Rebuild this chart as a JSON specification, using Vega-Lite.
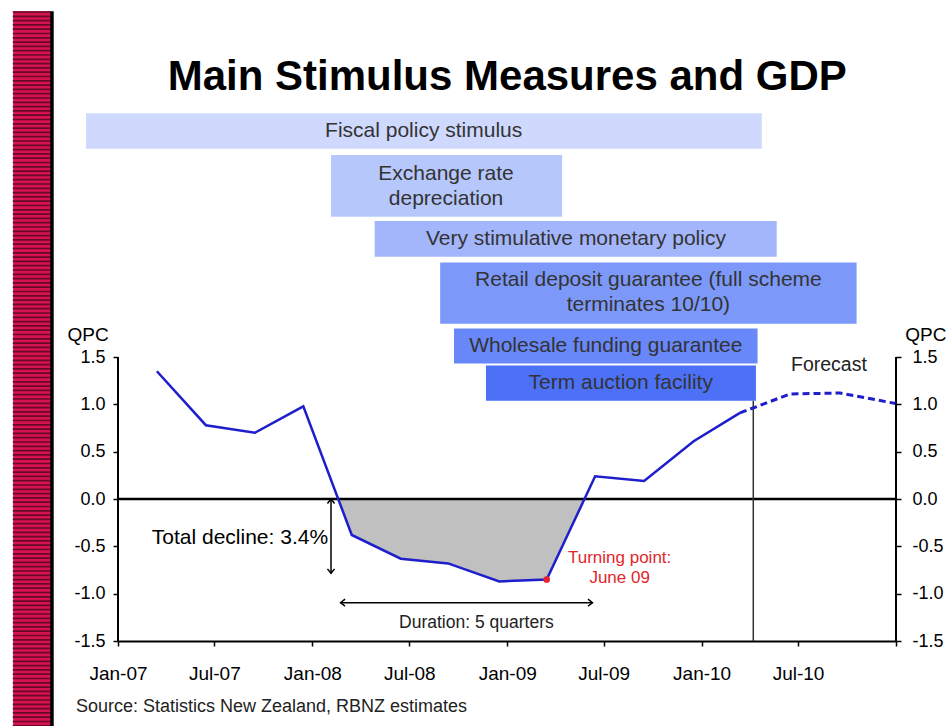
{
  "$schema": "https://vega.github.io/schema/vega-lite/v6.json",
  "width": 778,
  "height": 530,
  "padding": {"left": 12, "top": -8, "right": 0, "bottom": 0},
  "background": "white",
  "config": {"font": "Liberation Sans", "view": {"stroke": null}},
  "datasets": {
    "gdp": [
      {"date": "2007-03-15", "qpc": 1.35, "series": "Actual"},
      {"date": "2007-06-15", "qpc": 0.78, "series": "Actual"},
      {"date": "2007-09-15", "qpc": 0.70, "series": "Actual"},
      {"date": "2007-12-15", "qpc": 0.98, "series": "Actual"},
      {"date": "2008-03-15", "qpc": -0.38, "series": "Actual"},
      {"date": "2008-06-15", "qpc": -0.63, "series": "Actual"},
      {"date": "2008-09-12", "qpc": -0.68, "series": "Actual"},
      {"date": "2008-12-17", "qpc": -0.87, "series": "Actual"},
      {"date": "2009-03-16", "qpc": -0.85, "series": "Actual"},
      {"date": "2009-06-15", "qpc": 0.24, "series": "Actual"},
      {"date": "2009-09-15", "qpc": 0.19, "series": "Actual"},
      {"date": "2009-12-17", "qpc": 0.61, "series": "Actual"},
      {"date": "2010-03-14", "qpc": 0.91, "series": "Actual"},
      {"date": "2010-03-14", "qpc": 0.91, "series": "Forecast"},
      {"date": "2010-06-16", "qpc": 1.11, "series": "Forecast"},
      {"date": "2010-09-18", "qpc": 1.12, "series": "Forecast"},
      {"date": "2010-12-31", "qpc": 1.01, "series": "Forecast"}
    ],
    "recession": [
      {"date": "2008-02-20", "qpc": 0},
      {"date": "2008-03-15", "qpc": -0.38},
      {"date": "2008-06-15", "qpc": -0.63},
      {"date": "2008-09-12", "qpc": -0.68},
      {"date": "2008-12-17", "qpc": -0.87},
      {"date": "2009-03-16", "qpc": -0.85},
      {"date": "2009-05-27", "qpc": 0}
    ],
    "measures": [
      {"measure": "Fiscal policy stimulus", "start": "2006-11-02", "end": "2010-04-24", "top": 4.077, "bottom": 3.700, "mid": "2008-07-28", "labely": 3.889},
      {"measure": "Exchange rate\ndepreciation", "start": "2008-02-05", "end": "2009-04-14", "top": 3.634, "bottom": 2.982, "mid": "2008-09-08", "labely": 3.433},
      {"measure": "Very stimulative monetary policy", "start": "2008-04-27", "end": "2010-05-22", "top": 2.937, "bottom": 2.559, "mid": "2009-05-10", "labely": 2.748},
      {"measure": "Retail deposit guarantee (full scheme\nterminates 10/10)", "start": "2008-08-28", "end": "2010-10-19", "top": 2.500, "bottom": 1.852, "mid": "2009-09-23", "labely": 2.313},
      {"measure": "Wholesale funding guarantee", "start": "2008-09-23", "end": "2010-04-16", "top": 1.803, "bottom": 1.433, "mid": "2009-07-05", "labely": 1.618},
      {"measure": "Term auction facility", "start": "2008-11-22", "end": "2010-04-13", "top": 1.412, "bottom": 1.038, "mid": "2009-08-02", "labely": 1.225}
    ],
    "arrows": [
      {"from": "2008-02-05", "to": "2008-02-05", "v1": 0, "v2": -0.785},
      {"from": "2008-02-23", "to": "2009-06-10", "v1": -1.095, "v2": -1.095}
    ],
    "heads": [
      {"date": "2008-02-05", "v": 0, "dir": "up"},
      {"date": "2008-02-05", "v": -0.785, "dir": "down"},
      {"date": "2008-02-23", "v": -1.095, "dir": "left"},
      {"date": "2009-06-10", "v": -1.095, "dir": "right"}
    ]
  },
  "resolve": {"axis": {"y": "independent"}},
  "layer": [
    {
      "data": {"values": [{}]},
      "mark": {"type": "rect", "color": "#D8124F"},
      "encoding": {
        "x": {"datum": {"year": 2006, "month": 6, "date": 18}, "type": "temporal", "title": null, "scale": {"domain": [{"year": 2007, "month": 1, "date": 1}, {"year": 2011, "month": 1, "date": 1}]}},
        "x2": {"datum": {"year": 2006, "month": 8, "date": 28}},
        "y": {"datum": 5.155, "type": "quantitative", "axis": null, "scale": {"domain": [-1.5, 4.1], "nice": false, "zero": false}},
        "y2": {"datum": -2.6}
      }
    },
    {
      "data": {"values": [{}]},
      "mark": {"type": "rule", "color": "#660A28", "strokeWidth": 38, "strokeDash": [1.7, 2.6], "strokeCap": "butt"},
      "encoding": {
        "x": {"datum": {"year": 2006, "month": 7, "date": 23}, "type": "temporal", "title": null},
        "y": {"datum": 5.155, "type": "quantitative", "axis": null},
        "y2": {"datum": -2.6}
      }
    },
    {
      "data": {"values": [{}]},
      "mark": {"type": "rule", "color": "#000000", "strokeWidth": 3.5},
      "encoding": {
        "x": {"datum": {"year": 2006, "month": 8, "date": 30}, "type": "temporal", "title": null},
        "y": {"datum": 5.155, "type": "quantitative", "axis": null},
        "y2": {"datum": -2.6}
      }
    },
    {
      "data": {"values": [{"date": "2009-01-01", "v": 4.32, "note": "Main Stimulus Measures and GDP"}]},
      "mark": {"type": "text", "fontSize": 42, "fontWeight": "bold", "color": "#000000", "align": "center", "baseline": "alphabetic"},
      "encoding": {
        "x": {"field": "date", "type": "temporal", "title": null},
        "y": {"field": "v", "type": "quantitative", "axis": null, "title": null},
        "text": {"field": "note"}
      }
    },
    {
      "data": {"name": "recession"},
      "mark": {"type": "area", "color": "#C0C0C0", "opacity": 1},
      "encoding": {
        "x": {"field": "date", "type": "temporal", "title": null},
        "y": {"field": "qpc", "type": "quantitative", "axis": null, "title": null},
        "y2": {"datum": 0}
      }
    },
    {
      "data": {"values": [{}]},
      "mark": {"type": "rule", "color": "#000000", "strokeWidth": 2.5},
      "encoding": {
        "x": {"datum": {"year": 2007, "month": 1, "date": 1}, "type": "temporal", "title": null},
        "x2": {"datum": {"year": 2011, "month": 1, "date": 1}},
        "y": {"datum": 0, "type": "quantitative", "axis": null}
      }
    },
    {
      "data": {"values": [{}]},
      "mark": {"type": "rule", "color": "#000000", "strokeWidth": 2},
      "encoding": {
        "x": {"datum": {"year": 2007, "month": 1, "date": 1}, "type": "temporal", "title": null},
        "y": {"datum": -1.5, "type": "quantitative", "axis": null},
        "y2": {"datum": 1.5}
      }
    },
    {
      "data": {"values": [{}]},
      "mark": {"type": "rule", "color": "#000000", "strokeWidth": 2},
      "encoding": {
        "x": {"datum": {"year": 2011, "month": 1, "date": 1}, "type": "temporal", "title": null},
        "y": {"datum": -1.5, "type": "quantitative", "axis": null},
        "y2": {"datum": 1.5}
      }
    },
    {
      "data": {"values": [{}]},
      "mark": {"type": "rule", "color": "#333333", "strokeWidth": 1.5},
      "encoding": {
        "x": {"datum": {"year": 2010, "month": 4, "date": 8}, "type": "temporal", "title": null},
        "y": {"datum": -1.5, "type": "quantitative", "axis": null},
        "y2": {"datum": 1.04}
      }
    },
    {
      "data": {"name": "gdp"},
      "transform": [{"filter": "datum.series == 'Actual'"}],
      "mark": {"type": "line", "color": "#1E1ECC", "strokeWidth": 2.5},
      "encoding": {
        "x": {"field": "date", "type": "temporal", "title": null,
          "axis": {"orient": "bottom", "values": [{"year": 2007, "month": 1, "date": 1}, {"year": 2007, "month": 7, "date": 1}, {"year": 2008, "month": 1, "date": 1}, {"year": 2008, "month": 7, "date": 1}, {"year": 2009, "month": 1, "date": 1}, {"year": 2009, "month": 7, "date": 1}, {"year": 2010, "month": 1, "date": 1}, {"year": 2010, "month": 7, "date": 1}, {"year": 2011, "month": 1, "date": 1}],
            "format": "%b-%y", "labelExpr": "datum.label == 'Jan-11' ? '' : datum.label",
            "domain": true, "domainColor": "#000000", "domainWidth": 2, "grid": false,
            "ticks": true, "tickSize": 5, "tickColor": "#000000", "tickWidth": 1.5,
            "labelFontSize": 19, "labelColor": "#000000", "labelPadding": 18, "labelDx": 6, "labelFlush": false, "labelOverlap": false, "labelFont": "Liberation Sans"}},
        "y": {"field": "qpc", "type": "quantitative", "title": null,
          "axis": {"orient": "left", "values": [-1.5, -1, -0.5, 0, 0.5, 1, 1.5],
            "labelExpr": "replace(format(datum.value, '.1f'), '\u2212', '-')",
            "domain": false, "grid": false, "ticks": true, "tickSize": 5, "tickColor": "#000000", "tickWidth": 1.5,
            "labelFontSize": 18, "labelColor": "#000000", "labelPadding": 8, "labelFont": "Liberation Sans"}}
      }
    },
    {
      "data": {"name": "gdp"},
      "transform": [{"filter": "datum.series == 'Forecast'"}],
      "mark": {"type": "line", "color": "#1E1ECC", "strokeWidth": 3, "strokeDash": [7, 4]},
      "encoding": {
        "x": {"field": "date", "type": "temporal", "title": null},
        "y": {"field": "qpc", "type": "quantitative", "title": null,
          "axis": {"orient": "right", "values": [-1.5, -1, -0.5, 0, 0.5, 1, 1.5],
            "labelExpr": "replace(format(datum.value, '.1f'), '\u2212', '-')",
            "domain": false, "grid": false, "ticks": true, "tickSize": 5, "tickColor": "#000000", "tickWidth": 1.5,
            "labelFontSize": 18, "labelColor": "#000000", "labelPadding": 11, "labelFont": "Liberation Sans"}}
      }
    },
    {
      "data": {"values": [{"date": "2009-03-16", "qpc": -0.85}]},
      "mark": {"type": "point", "filled": true, "color": "#E8202A", "size": 45, "opacity": 1},
      "encoding": {
        "x": {"field": "date", "type": "temporal", "title": null},
        "y": {"field": "qpc", "type": "quantitative", "axis": null, "title": null}
      }
    },
    {
      "data": {"name": "measures"},
      "mark": {"type": "rect"},
      "encoding": {
        "x": {"field": "start", "type": "temporal", "title": null},
        "x2": {"field": "end"},
        "y": {"field": "top", "type": "quantitative", "axis": null, "title": null},
        "y2": {"field": "bottom"},
        "color": {"field": "measure", "type": "nominal", "legend": null,
          "scale": {"domain": ["Fiscal policy stimulus", "Exchange rate\ndepreciation", "Very stimulative monetary policy", "Retail deposit guarantee (full scheme\nterminates 10/10)", "Wholesale funding guarantee", "Term auction facility"],
            "range": ["#CED9FD", "#B6C7FC", "#A3B6FB", "#7C99FA", "#6888F9", "#4C71F7"]}}
      }
    },
    {
      "data": {"name": "measures"},
      "mark": {"type": "text", "fontSize": 21, "color": "#333333", "align": "center", "baseline": "middle", "lineBreak": "\n", "lineHeight": 25, "font": "Liberation Sans"},
      "encoding": {
        "x": {"field": "mid", "type": "temporal", "title": null},
        "y": {"field": "labely", "type": "quantitative", "axis": null, "title": null},
        "text": {"field": "measure"}
      }
    },
    {
      "data": {"name": "arrows"},
      "mark": {"type": "rule", "color": "#000000", "strokeWidth": 1.5},
      "encoding": {
        "x": {"field": "from", "type": "temporal", "title": null},
        "x2": {"field": "to"},
        "y": {"field": "v1", "type": "quantitative", "axis": null, "title": null},
        "y2": {"field": "v2"}
      }
    },
    {
      "data": {"name": "heads"},
      "mark": {"type": "point", "filled": false, "stroke": "#000000", "strokeWidth": 1.5, "size": 80, "opacity": 1},
      "encoding": {
        "x": {"field": "date", "type": "temporal", "title": null},
        "y": {"field": "v", "type": "quantitative", "axis": null, "title": null},
        "shape": {"field": "dir", "type": "nominal", "legend": null,
          "scale": {"domain": ["up", "down", "left", "right"],
            "range": ["M-0.8,1L0,0L0.8,1", "M-0.8,-1L0,0L0.8,-1", "M1,-0.8L0,0L1,0.8", "M-1,-0.8L0,0L-1,0.8"]}}
      }
    },
    {
      "data": {"values": [{"date": "2007-08-18", "v": -0.415, "note": "Total decline: 3.4%"}]},
      "mark": {"type": "text", "fontSize": 21, "color": "#000000", "align": "center", "baseline": "middle"},
      "encoding": {
        "x": {"field": "date", "type": "temporal", "title": null},
        "y": {"field": "v", "type": "quantitative", "axis": null, "title": null},
        "text": {"field": "note"}
      }
    },
    {
      "data": {"values": [{"date": "2008-11-04", "v": -1.313, "note": "Duration: 5 quarters"}]},
      "mark": {"type": "text", "fontSize": 17.5, "color": "#222222", "align": "center", "baseline": "middle"},
      "encoding": {
        "x": {"field": "date", "type": "temporal", "title": null},
        "y": {"field": "v", "type": "quantitative", "axis": null, "title": null},
        "text": {"field": "note"}
      }
    },
    {
      "data": {"values": [{"date": "2010-08-28", "v": 1.415, "note": "Forecast"}]},
      "mark": {"type": "text", "fontSize": 19.5, "color": "#222222", "align": "center", "baseline": "middle"},
      "encoding": {
        "x": {"field": "date", "type": "temporal", "title": null},
        "y": {"field": "v", "type": "quantitative", "axis": null, "title": null},
        "text": {"field": "note"}
      }
    },
    {
      "data": {"values": [{"date": "2009-07-31", "v": -0.623, "note": "Turning point:\nJune 09"}]},
      "mark": {"type": "text", "fontSize": 17, "color": "#E3262E", "align": "center", "baseline": "middle", "lineBreak": "\n", "lineHeight": 20},
      "encoding": {
        "x": {"field": "date", "type": "temporal", "title": null},
        "y": {"field": "v", "type": "quantitative", "axis": null, "title": null},
        "text": {"field": "note"}
      }
    },
    {
      "data": {"values": [{"date": "2006-11-06", "v": 1.732, "note": "QPC"}, {"date": "2011-02-26", "v": 1.732, "note": "QPC"}]},
      "mark": {"type": "text", "fontSize": 19, "color": "#000000", "align": "center", "baseline": "middle"},
      "encoding": {
        "x": {"field": "date", "type": "temporal", "title": null},
        "y": {"field": "v", "type": "quantitative", "axis": null, "title": null},
        "text": {"field": "note"}
      }
    },
    {
      "data": {"values": [{"date": "2006-10-14", "v": -2.2, "note": "Source: Statistics New Zealand, RBNZ estimates"}]},
      "mark": {"type": "text", "fontSize": 18, "color": "#222222", "align": "left", "baseline": "middle"},
      "encoding": {
        "x": {"field": "date", "type": "temporal", "title": null},
        "y": {"field": "v", "type": "quantitative", "axis": null, "title": null},
        "text": {"field": "note"}
      }
    }
  ]
}
